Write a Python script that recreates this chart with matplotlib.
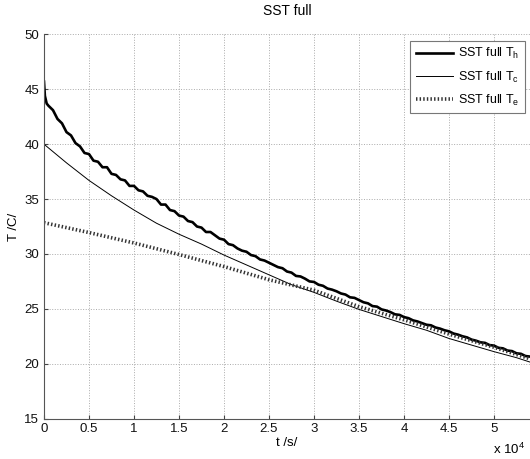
import numpy as np
import matplotlib
matplotlib.use("Agg")
import matplotlib.pyplot as plt

plt.rcParams['font.family'] = ['Liberation Sans', 'DejaVu Sans']
plt.rcParams['mathtext.fontset'] = 'custom'
plt.rcParams['mathtext.rm'] = 'Liberation Sans'

# time in units of 1e4 s
th_t = [0.0, 0.01, 0.03, 0.05, 0.1, 0.15, 0.2, 0.25, 0.3, 0.35, 0.4, 0.45,
        0.5, 0.55, 0.6, 0.65, 0.7, 0.75, 0.8, 0.85, 0.9, 0.95, 1.0, 1.05,
        1.1, 1.15, 1.2, 1.25, 1.3, 1.35, 1.4, 1.45, 1.5, 1.55, 1.6, 1.65,
        1.7, 1.75, 1.8, 1.85, 1.9, 1.95, 2.0, 2.05, 2.1, 2.15, 2.2, 2.25,
        2.3, 2.35, 2.4, 2.45, 2.5, 2.55, 2.6, 2.65, 2.7, 2.75, 2.8, 2.85,
        2.9, 2.95, 3.0, 3.05, 3.1, 3.15, 3.2, 3.25, 3.3, 3.35, 3.4, 3.45,
        3.5, 3.55, 3.6, 3.65, 3.7, 3.75, 3.8, 3.85, 3.9, 3.95, 4.0, 4.05,
        4.1, 4.15, 4.2, 4.25, 4.3, 4.35, 4.4, 4.45, 4.5, 4.55, 4.6, 4.65,
        4.7, 4.75, 4.8, 4.85, 4.9, 4.95, 5.0, 5.05, 5.1, 5.15, 5.2, 5.25,
        5.3, 5.35, 5.4]
th_vals = [45.7, 44.4, 43.7, 43.5, 43.1, 42.3, 41.9, 41.1, 40.8, 40.1, 39.8,
           39.2, 39.1, 38.5, 38.4, 37.9, 37.9, 37.3, 37.2, 36.8, 36.7, 36.2,
           36.2, 35.8, 35.7, 35.3, 35.2, 35.0, 34.5, 34.5, 34.0, 33.9, 33.5,
           33.4, 33.0, 32.9, 32.5, 32.4, 32.0, 32.0, 31.7, 31.4, 31.3, 30.9,
           30.8, 30.5, 30.3, 30.2, 29.9, 29.8, 29.5, 29.4, 29.2, 29.0, 28.8,
           28.7, 28.4, 28.3, 28.0, 27.95, 27.75, 27.5, 27.45, 27.2, 27.1,
           26.85, 26.75, 26.6, 26.4, 26.3, 26.05, 26.0, 25.8, 25.6, 25.5,
           25.25, 25.2, 24.95, 24.85, 24.7, 24.5, 24.45, 24.25, 24.15, 23.95,
           23.85, 23.7, 23.55, 23.5, 23.3, 23.2, 23.05, 22.95, 22.75, 22.65,
           22.5, 22.4, 22.2, 22.1, 21.95, 21.9, 21.7, 21.65, 21.45, 21.4,
           21.2, 21.15, 20.95, 20.9, 20.7, 20.65]

tc_t = [0.0, 0.25, 0.5, 0.75, 1.0, 1.25, 1.5, 1.75, 2.0, 2.25, 2.5, 2.75, 3.0,
        3.25, 3.5, 3.75, 4.0, 4.25, 4.5, 4.75, 5.0, 5.25, 5.4]
tc_vals = [40.0, 38.3, 36.7, 35.3, 34.0, 32.8, 31.8, 30.9, 29.9, 29.0, 28.1,
           27.2, 26.5, 25.7, 24.95, 24.3, 23.65, 23.05, 22.3, 21.7, 21.1,
           20.55, 20.15]

te_t = [0.0, 0.5, 1.0, 1.5, 2.0, 2.5, 3.0, 3.5, 4.0, 4.5, 5.0, 5.4]
te_vals = [32.85, 31.95, 31.0, 29.95, 28.85, 27.65, 26.7, 25.2, 24.0, 22.7,
           21.5, 20.45]

xtick_labels = ['0', '0.5', '1', '1.5', '2', '2.5', '3', '3.5', '4', '4.5', '5']

fig = plt.figure(figsize=(5.3, 4.59), dpi=100)
ax = fig.add_axes([0.083, 0.088, 0.917, 0.837])

ax.plot(np.array(th_t) * 1e4, th_vals, color='black', lw=1.9,
        label=r'SST full T$_\mathrm{h}$')
ax.plot(np.array(tc_t) * 1e4, tc_vals, color='black', lw=0.7,
        label=r'SST full T$_\mathrm{c}$')
ax.plot(np.array(te_t) * 1e4, te_vals, color='#333333', lw=2.6,
        linestyle=(0, (0.4, 0.6)), label=r'SST full T$_\mathrm{e}$')

ax.set_xlim(0, 54000)
ax.set_ylim(15, 50)
ax.set_xticks(np.arange(len(xtick_labels)) * 5000)
ax.set_xticklabels(xtick_labels)
ax.set_yticks(np.arange(15, 51, 5))
ax.tick_params(direction='in', labelsize=9.5, length=3, colors='#444444',
               labelcolor='#111111')
ax.grid(True, linestyle=':', color='#aaaaaa', lw=0.7)
for side in ['top', 'right']:
    ax.spines[side].set_visible(False)
for side in ['left', 'bottom']:
    ax.spines[side].set_color('#555555')

ax.set_title('SST full', fontsize=10, pad=14)
ax.set_xlabel('t /s/', fontsize=9.5, labelpad=1)
ax.set_ylabel('T /C/', fontsize=9.5, labelpad=3)
ax.text(0.99, -0.08, r'x 10$^\mathrm{4}$', transform=ax.transAxes,
        fontsize=9.5, ha='right', va='center')

leg = ax.legend(loc='upper right', fontsize=9, fancybox=False, framealpha=1,
                edgecolor='#777777', handlelength=3.0, handletextpad=0.4,
                labelspacing=0.65, borderpad=0.45, borderaxespad=0.0,
                bbox_to_anchor=(0.99, 0.984))
leg.get_frame().set_linewidth(0.8)

fig.savefig('out.png', dpi=100)
